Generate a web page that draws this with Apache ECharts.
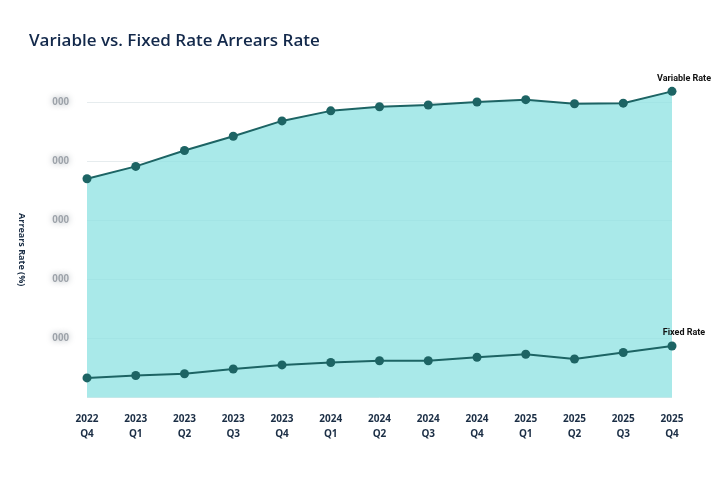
<!DOCTYPE html>
<html>
<head>
<meta charset="utf-8">
<script src="https://cdn.jsdelivr.net/npm/echarts@6/dist/echarts.min.js"></script>
<style>
html,body{margin:0;padding:0;background:#fff;}
#chart{width:723px;height:488px;}
</style>
</head>
<body>
<div id="chart"></div>
<script>
const categories = ['2022\nQ4','2023\nQ1','2023\nQ2','2023\nQ3','2023\nQ4','2024\nQ1','2024\nQ2','2024\nQ3','2024\nQ4','2025\nQ1','2025\nQ2','2025\nQ3','2025\nQ4'];
const variableRate = [3.70, 3.91, 4.18, 4.42, 4.68, 4.85, 4.92, 4.95, 5.00, 5.04, 4.97, 4.98, 5.18];
const fixedRate = [0.33, 0.37, 0.40, 0.48, 0.55, 0.59, 0.62, 0.62, 0.68, 0.73, 0.65, 0.76, 0.87];
const yTickLabels = ['', '000', '000', '000', '000', '000'];
const seriesNames = ['Variable Rate', 'Fixed Rate'];

const teal = '#1d6464';
function withEndLabel(values, name) {
  return values.map((v, i) => i === values.length - 1 ? {
    value: v,
    label: {
      show: true, position: 'top', formatter: name, offset: [12, 1],
      color: '#111', fontSize: 9, fontWeight: 'bold', fontFamily: 'Roboto'
    }
  } : v);
}

const chart = echarts.init(document.getElementById('chart'));
chart.setOption({
  animation: false,
  title: {
    text: 'Variable vs. Fixed Rate Arrears Rate',
    left: 24, top: 28,
    textStyle: { color: '#13294b', fontSize: 17, fontWeight: 600, fontFamily: 'Open Sans' }
  },
  grid: { left: 87, right: 51, top: 102, bottom: 90.6 },
  xAxis: {
    type: 'category', data: categories, boundaryGap: false,
    axisLine: { show: false }, axisTick: { show: false },
    axisLabel: { color: '#1b2e45', fontSize: 10, fontWeight: 'bold', fontFamily: 'Open Sans', margin: 14, lineHeight: 15 }
  },
  yAxis: {
    type: 'value', min: 0, max: 5, interval: 1,
    name: 'Arrears Rate (%)', nameLocation: 'middle', nameRotate: -90, nameGap: 61,
    nameTextStyle: { color: '#1b2e45', fontSize: 9, fontWeight: 'bold', fontFamily: 'Open Sans' },
    axisLine: { show: false }, axisTick: { show: false },
    splitLine: { lineStyle: { color: '#e6ecee', width: 1 } },
    axisLabel: {
      margin: 18, fontSize: 10, fontWeight: 'bold', color: '#9ca2a9',
      textShadowColor: '#9ca2a9', textShadowBlur: 6,
      formatter: (v) => yTickLabels[Math.round(v)]
    }
  },
  series: [
    {
      name: seriesNames[0], type: 'line', data: withEndLabel(variableRate, seriesNames[0]),
      clip: false, symbol: 'circle', symbolSize: 9,
      lineStyle: { color: teal, width: 2 },
      itemStyle: { color: teal },
      areaStyle: { color: 'rgba(140,225,225,0.75)', origin: 'start', opacity: 1 },
      z: 2
    },
    {
      name: seriesNames[1], type: 'line', data: withEndLabel(fixedRate, seriesNames[1]),
      clip: false, symbol: 'circle', symbolSize: 9,
      lineStyle: { color: teal, width: 2 },
      itemStyle: { color: teal },
      z: 3
    }
  ]
});
</script>
</body>
</html>
